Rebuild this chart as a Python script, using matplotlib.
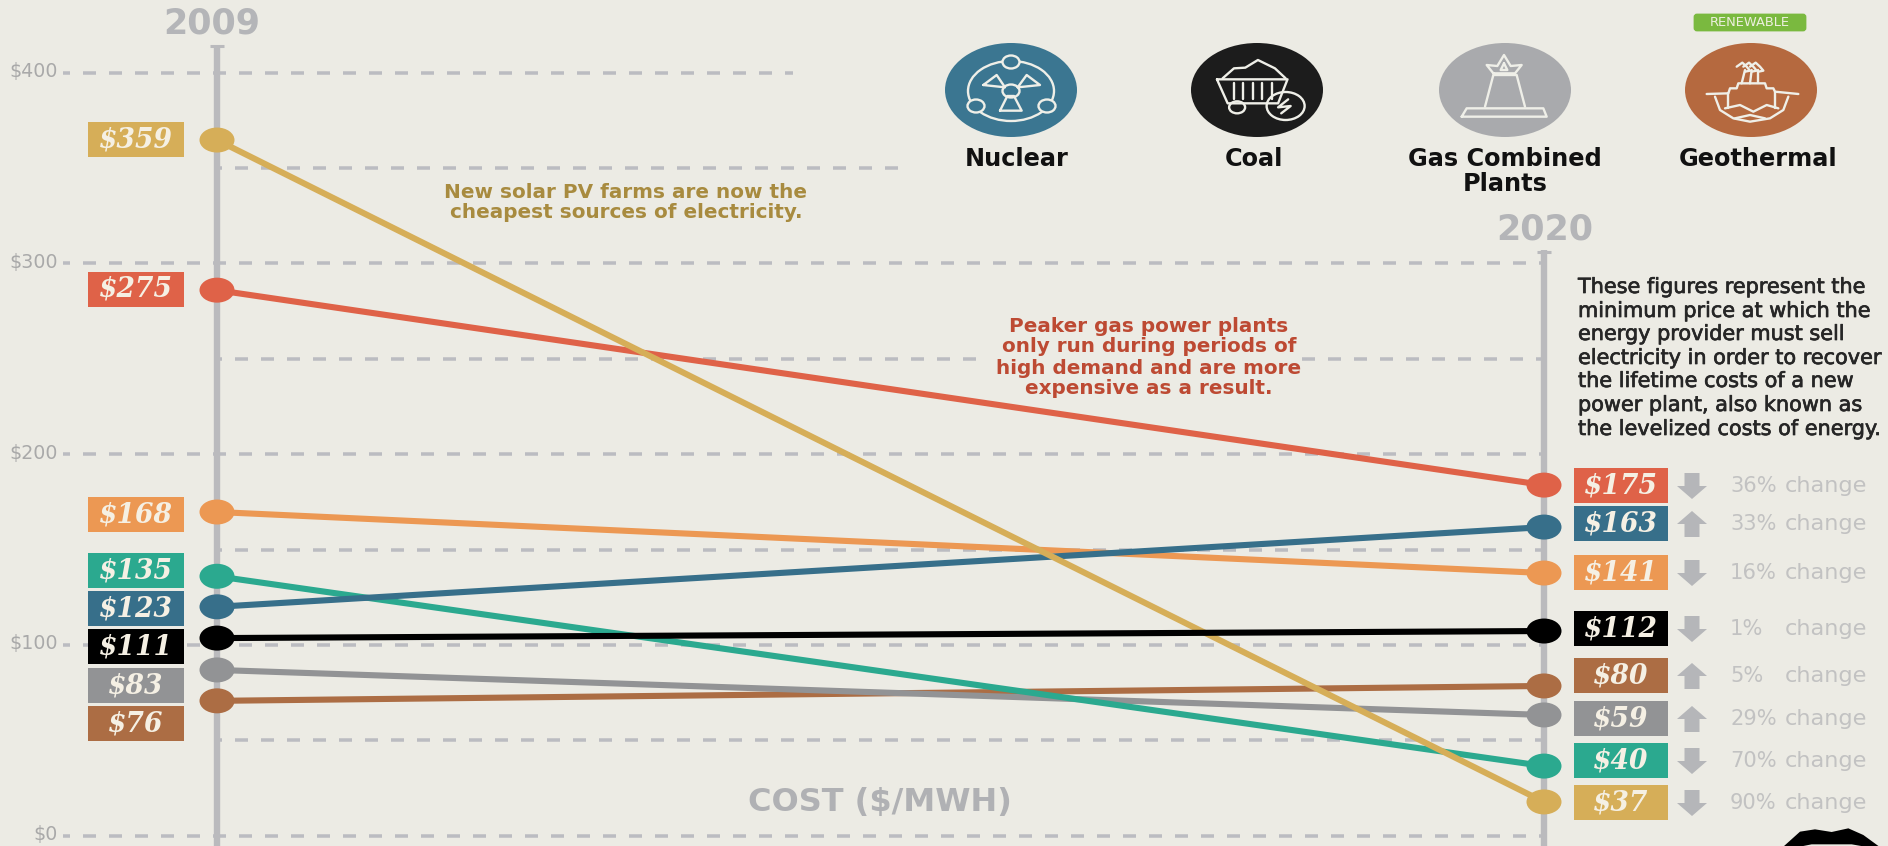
import numpy as np
import matplotlib
matplotlib.use("Agg")
import matplotlib.pyplot as plt
import matplotlib.patheffects as pe
from matplotlib.patches import Ellipse, Polygon, Rectangle, FancyBboxPatch

# chart data
series = ["Solar", "Peaker gas", "Gas peaking", "Wind", "Nuclear", "Coal", "Gas combined", "Geothermal"]
line_2009 = [364.7, 286, 169.7, 136, 120, 103.6, 86.9, 70.7]
line_2020 = [17.7, 183.8, 137.7, 36.5, 161.8, 107.3, 63.3, 78.5]
price_2009 = ["$359", "$275", "$168", "$135", "$123", "$111", "$83", "$76"]
price_2020 = ["$37", "$175", "$141", "$40", "$163", "$112", "$59", "$80"]
change_pct = ["90%", "36%", "16%", "70%", "33%", "1%", "29%", "5%"]
change_dir = ["down", "down", "down", "down", "up", "down", "up", "up"]
colors = ["#D6AE58", "#DF6248", "#EC9853", "#2BA98F", "#376F8A", "#000000", "#929395", "#AC6D44"]
grid_values = [400, 350, 300, 250, 200, 150, 100, 50, 0]
tick_labels = ["$400", "$300", "$200", "$100", "$0"]
tick_values = [400, 300, 200, 100, 0]

# layout (pixels of the 1888x846 picture)
W, H = 1888, 846
BG = "#ECEBE4"
GREY = "#B5B6B9"
DASH = "#BBBCC1"
box_y_2009 = [140, 289.5, 515, 571, 609, 647, 686, 724]
box_y_2020 = [803, 486, 573, 761, 524, 629, 719, 676]
draw_order = [7, 6, 3, 2, 4, 1, 0, 5]


def xdata(px):
    return 2009 + (px - 217) / (1544 - 217) * 11


def ydata(py):
    return (835.7 - py) / 1.9075


def fs(px):
    # font size from pixels at dpi 100
    return px * 0.72


fig = plt.figure(figsize=(W / 100, H / 100), dpi=100, facecolor=BG)
ax = fig.add_axes([0, 0, 1, 1])
ax.set_xlim(xdata(0), xdata(W))
ax.set_ylim(ydata(H), ydata(0))
ax.axis("off")

# pixel overlay for boxes, text and icons
ov = fig.add_axes([0, 0, 1, 1])
ov.set_xlim(0, W)
ov.set_ylim(H, 0)
ov.axis("off")
ov.patch.set_alpha(0)

# dashed guide lines, 13px dash and 13px gap
grid_spans = {400: (63, 793), 350: (217, 899), 300: (63, 1544), 250: (217, 1544),
              200: (63, 1544), 150: (217, 1544), 100: (63, 1544), 50: (217, 1544), 0: (63, 1544)}
DASH_W = 3.5
dash_pat = (13 / DASH_W, 13 / DASH_W)


def dashed(x0, x1, v, off_px):
    ax.plot([xdata(x0), xdata(x1)], [v, v], color=DASH, lw=DASH_W * 0.72,
            linestyle=(off_px / DASH_W, dash_pat), dash_capstyle="butt", zorder=1)


for v in grid_values:
    x0, x1 = grid_spans[v]
    off = 6 if x0 == 63 else 8
    if v == 250:
        dashed(x0, 977, v, off)
        dashed(1302, x1, v, 0)
    else:
        dashed(x0, x1, v, off)

# the two year axes
for year, top in [(2009, 45), (2020, 250)]:
    ax.plot([year, year], [ydata(H), ydata(top)], color="#BABABD", lw=4.6, solid_capstyle="butt", zorder=2)
    px = 217 if year == 2009 else 1544
    ax.plot([xdata(px - 7), xdata(px + 7)], [ydata(top + 1.5)] * 2, color="#BABABD", lw=2.2, solid_capstyle="butt", zorder=2)

# slope lines and dots
dot_w = xdata(35) - xdata(0)
dot_h = ydata(0) - ydata(25)
for z, i in enumerate(draw_order):
    ax.plot([2009, 2020], [line_2009[i], line_2020[i]], color=colors[i], lw=4.4, solid_capstyle="butt", zorder=3 + z)
for i in range(len(series)):
    ax.add_patch(Ellipse((2009, line_2009[i]), dot_w, dot_h, color=colors[i], lw=0, zorder=20))
    ax.add_patch(Ellipse((2020, line_2020[i]), dot_w, dot_h, color=colors[i], lw=0, zorder=20))

# value boxes
BOX_H = 35
serif = dict(family="DejaVu Serif", style="italic", weight="bold", color="#F5F0E4", fontsize=fs(26.5), ha="center", va="center")
for i in range(len(series)):
    ov.add_patch(Rectangle((88, box_y_2009[i] - BOX_H / 2), 96, BOX_H, color=colors[i], lw=0))
    ov.text(136, box_y_2009[i], price_2009[i], **serif)
    ov.add_patch(Rectangle((1574, box_y_2020[i] - BOX_H / 2), 94, BOX_H, color=colors[i], lw=0))
    ov.text(1621, box_y_2020[i], price_2020[i], **serif)
    # arrow
    s = 1 if change_dir[i] == "down" else -1
    cx, cy = 1692, box_y_2020[i]
    ov.add_patch(Polygon([(cx - 7.5, cy - 13 * s), (cx + 7.5, cy - 13 * s), (cx + 7.5, cy), (cx + 15, cy),
                          (cx, cy + 13 * s), (cx - 15, cy), (cx - 7.5, cy)], color=GREY, lw=0))
    ov.text(1730, cy, change_pct[i], color="#C2C2C2", fontsize=fs(21), ha="left", va="center")
    ov.text(1785, cy, "change", color="#C2C2C2", fontsize=fs(22.5), ha="left", va="center")

# axis text
for v, label in zip(tick_values, tick_labels):
    ov.text(58, 835.7 - 1.9075 * v - 1, label, color="#A9A9A9", fontsize=fs(19), ha="right", va="center")
ov.text(212, 24, "2009", color="#B4B5B8", fontsize=fs(35), weight="bold", ha="center", va="center")
ov.text(1545, 230, "2020", color="#B4B5B8", fontsize=fs(35), weight="bold", ha="center", va="center")
ov.text(880, 802, "COST ($/MWH)", color="#B0B1B4", fontsize=fs(32), weight="bold", ha="center", va="center")

# notes
for y, line in zip([193, 213], ["New solar PV farms are now the", "cheapest sources of electricity."]):
    ov.text(626, y, line, color="#A88B3F", fontsize=fs(20), weight="bold", ha="center", va="center")
for y, line in zip([326, 347, 368, 388], ["Peaker gas power plants", "only run during periods of",
                                          "high demand and are more", "expensive as a result."]):
    ov.text(1149, y, line, color="#BD4A33", fontsize=fs(20), weight="bold", ha="center", va="center")
note = ["These figures represent the", "minimum price at which the", "energy provider must sell",
        "electricity in order to recover", "the lifetime costs of a new", "power plant, also known as",
        "the levelized costs of energy."]
for y, line in zip([287, 311, 334, 358, 381, 405, 429], note):
    ov.text(1578, y, line, color="#262626", fontsize=fs(20.8), ha="left", va="center",
            path_effects=[pe.withStroke(linewidth=0.5, foreground="#262626")])

# legend icons
ICON = "#EFEFE8"
icon_x = [1011, 1257, 1505, 1751]
icon_colors = ["#3B7691", "#1C1C1C", "#A9AAAD", "#B5693F"]
icon_labels = ["Nuclear", "Coal", "Gas Combined\nPlants", "Geothermal"]
for x, c, label in zip(icon_x, icon_colors, icon_labels):
    ov.add_patch(Ellipse((x, 90), 132, 94, color=c, lw=0))
for x, label in zip([1017, 1254, 1505, 1758], icon_labels):
    ov.text(x, 147.5, label, color="#111111", fontsize=fs(24), weight="bold", ha="center", va="top", linespacing=1.05)


def stroke(pts, close=False, lw=1.7):
    pts = list(pts)
    if close:
        pts.append(pts[0])
    xs, ys = zip(*pts)
    ov.plot(xs, ys, color=ICON, lw=lw, solid_joinstyle="round", solid_capstyle="round")


def ring(cx, cy, w, h, lw=1.7, fill="none"):
    ov.add_patch(Ellipse((cx, cy), w, h, fc=fill, ec=ICON, lw=lw))


# nuclear
ring(1011, 91, 86, 60)
for cx, cy in [(1011, 62), (976, 106), (1047, 106)]:
    ring(cx, cy, 17, 13, fill="#3B7691")
ring(1011, 91, 17, 13)
z6 = lambda p: (930 + p[0] / 3, 50 + p[1] / 3)
stroke(map(z6, [(160, 105), (200, 75), (225, 112)]), True)
stroke(map(z6, [(263, 112), (290, 75), (330, 105)]), True)
stroke(map(z6, [(210, 182), (275, 182), (252, 138), (232, 138)]), True)

# coal
z2 = lambda p: (900 + p[0] / 1.587, p[1] / 3)
stroke(map(z2, [(503, 238), (615, 238), (600, 310), (520, 310)]), True)
stroke(map(z2, [(512, 235), (530, 205), (548, 203), (568, 180), (595, 205), (612, 235)]))
for sx in [530, 545, 560, 575, 590]:
    stroke(map(z2, [(sx, 250), (sx, 298)]))
ov.add_patch(Ellipse(z2((535, 322)), 16, 12, fc="#1C1C1C", ec=ICON, lw=1.7))
ov.add_patch(Ellipse(z2((612, 318)), 38, 28, fc="#1C1C1C", ec=ICON, lw=1.7))
stroke(map(z2, [(616, 298), (600, 322), (620, 318), (605, 340)]))

# gas combined
z7 = lambda p: (1420 + p[0] / 3, 50 + p[1] / 3)
stroke(map(z7, [(125, 200), (380, 200), (370, 175), (140, 175)]), True)
stroke(map(z7, [(195, 170), (220, 75), (290, 75), (315, 170)]))
stroke(map(z7, [(220, 70), (200, 45), (232, 48), (252, 15), (272, 48), (305, 45), (285, 70)]), True)
stroke(map(z7, [(252, 40), (262, 60), (242, 60)]), True)

# geothermal
stroke(map(z7, [(860, 132), (925, 130), (930, 115), (950, 115), (955, 100), (1035, 100), (1040, 115), (1060, 115), (1065, 125), (1135, 132)]))
stroke(map(z7, [(885, 140), (900, 180), (940, 205), (990, 215), (1050, 205), (1090, 180), (1105, 140)]))
stroke(map(z7, [(925, 130), (925, 175)]))
stroke(map(z7, [(1065, 125), (1065, 175)]))
stroke(map(z7, [(915, 175), (960, 165), (1000, 185), (1040, 165), (1075, 175)]))
stroke(map(z7, [(945, 205), (990, 195), (1035, 205)]))
for a, b in [(965, 975), (990, 995), (1015, 1015)]:
    stroke(map(z7, [(a, 100), (b, 60)]))
    stroke(map(z7, [(b - 25, 50), (b - 8, 38), (b + 5, 50), (b + 15, 62), (b, 65)]))

# renewable tag
ov.add_patch(FancyBboxPatch((1695, 15), 110, 15, boxstyle="round,pad=0,rounding_size=2", fc="#7AB93F", ec="#7AB93F", lw=2))
ov.text(1750, 22.5, "RENEWABLE", color="#EDEFDF", fontsize=fs(13), ha="center", va="center")

# logo cut off at the bottom edge
z9 = lambda p: (1720 + p[0] / 3, 790 + p[1] / 3)
ov.add_patch(Polygon(list(map(z9, [(190, 170), (240, 125), (285, 118), (335, 126), (385, 115), (430, 135), (478, 170)])), color="#000000", lw=0))
ov.add_patch(Polygon(list(map(z9, [(240, 170), (275, 163), (395, 163), (435, 170)])), color=BG, lw=0))

fig.savefig("out.png", dpi=100, facecolor=BG)
